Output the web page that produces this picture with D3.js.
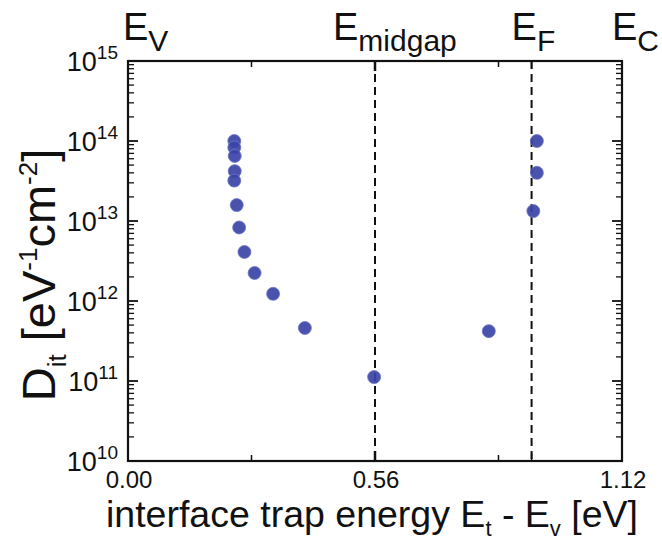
<!DOCTYPE html>
<html>
<head>
<meta charset="utf-8">
<script src="https://cdn.jsdelivr.net/npm/d3@7"></script>
<style>
  body { margin: 0; background: #fff; }
  svg text { font-family: "Liberation Sans", Arial, sans-serif; fill: #111; }
</style>
</head>
<body>
<div class="graphics"></div>
<script>
// trap energy (eV above E_v) and D_it values
const energy = [0.241, 0.241, 0.242, 0.242, 0.241, 0.2465, 0.252, 0.264, 0.287, 0.329, 0.401, 0.558, 0.818, 0.919, 0.927, 0.927];
const dit = [1.0e14, 8.3e13, 6.5e13, 4.2e13, 3.2e13, 1.58e13, 8.3e12, 4.1e12, 2.24e12, 1.23e12, 4.6e11, 1.12e11, 4.2e11, 1.33e13, 4.0e13, 1.0e14];
const xTicks = [0.00, 0.56, 1.12];
const xMinor = [0.28, 0.84];
const yExp = [10, 11, 12, 13, 14, 15];
const levelNames = ["V", "midgap", "F", "C"];
const levelEnergy = [0, 0.56, 0.915, 1.12];
const dashedAt = [0.56, 0.915];

const width = 662, height = 545;
const margin = { top: 61, right: 40, bottom: 84, left: 128 };

const svg = d3.select('.graphics').append('svg')
  .attr('width', width)
  .attr('height', height);

const x = d3.scaleLinear().domain([0, 1.12]).range([margin.left, width - margin.right]);
const y = d3.scaleLog().domain([1e10, 1e15]).range([height - margin.bottom, margin.top]);

const x0 = x.range()[0], x1 = x.range()[1];
const y0 = y.range()[0], y1 = y.range()[1];

// dashed level lines
svg.append('g').selectAll('line').data(dashedAt).join('line')
  .attr('x1', d => x(d)).attr('x2', d => x(d))
  .attr('y1', y1).attr('y2', y0)
  .attr('stroke', '#111').attr('stroke-width', 2)
  .attr('stroke-dasharray', '8,5');

// points
svg.append('g').selectAll('circle').data(energy).join('circle')
  .attr('cx', d => x(d))
  .attr('cy', (d, i) => y(dit[i]))
  .attr('r', 6.5)
  .attr('fill', '#3a44a6')
  .attr('fill-opacity', 0.92)
  .attr('stroke', '#6f77c2')
  .attr('stroke-width', 0.8);

// y minor ticks (both sides, inward)
const minors = [];
for (let e = 10; e < 15; e++) for (let m = 2; m <= 9; m++) minors.push(m * Math.pow(10, e));
const yt = svg.append('g').attr('stroke', '#111');
yt.selectAll('.ml').data(minors).join('line')
  .attr('x1', x0).attr('x2', x0 + 6)
  .attr('y1', d => y(d)).attr('y2', d => y(d)).attr('stroke-width', 1.3);
yt.selectAll('.mr').data(minors).join('line')
  .attr('x1', x1).attr('x2', x1 - 6)
  .attr('y1', d => y(d)).attr('y2', d => y(d)).attr('stroke-width', 1.3);
yt.selectAll('.Ml').data(yExp).join('line')
  .attr('x1', x0).attr('x2', x0 + 10)
  .attr('y1', d => y(Math.pow(10, d))).attr('y2', d => y(Math.pow(10, d))).attr('stroke-width', 1.8);
yt.selectAll('.Mr').data(yExp).join('line')
  .attr('x1', x1).attr('x2', x1 - 10)
  .attr('y1', d => y(Math.pow(10, d))).attr('y2', d => y(Math.pow(10, d))).attr('stroke-width', 1.8);

// x ticks, bottom and top, inward
const xt = svg.append('g').attr('stroke', '#111');
[[y0, -1], [y1, 1]].forEach(([yy, dir]) => {
  xt.selectAll(null).data(xMinor).join('line')
    .attr('x1', d => x(d)).attr('x2', d => x(d))
    .attr('y1', yy).attr('y2', yy + dir * 6).attr('stroke-width', 1.5);
  xt.selectAll(null).data([0.56]).join('line')
    .attr('x1', d => x(d)).attr('x2', d => x(d))
    .attr('y1', yy).attr('y2', yy + dir * 10).attr('stroke-width', 2.5);
  xt.selectAll(null).data([0.915]).join('line')
    .attr('x1', d => x(d)).attr('x2', d => x(d))
    .attr('y1', yy).attr('y2', yy + dir * 8).attr('stroke-width', 1.5);
});

// frame
svg.append('rect')
  .attr('x', x0).attr('y', y1)
  .attr('width', x1 - x0).attr('height', y0 - y1)
  .attr('fill', 'none').attr('stroke', '#111').attr('stroke-width', 2.2);

// y tick labels
const yl = svg.append('g').selectAll('text').data(yExp).join('text')
  .attr('x', 118).attr('y', d => y(Math.pow(10, d)) + 10)
  .attr('text-anchor', 'end')
  .style('font-size', '27px');
yl.append('tspan').text('10');
yl.append('tspan').attr('dy', -12).style('font-size', '19px').text(d => d);

// x tick labels
svg.append('g').selectAll('text').data(xTicks).join('text')
  .attr('x', d => x(d) + 1).attr('y', y0 + 27)
  .attr('text-anchor', 'middle')
  .style('font-size', '24px')
  .text(d => d.toFixed(2));

// x title
const xl = svg.append('text')
  .attr('x', 372).attr('y', 527)
  .attr('text-anchor', 'middle')
  .style('font-size', '37.5px');
xl.append('tspan').text('interface trap energy E');
xl.append('tspan').attr('dy', 9).style('font-size', '22px').text('t');
xl.append('tspan').attr('dy', -9).text(' - E');
xl.append('tspan').attr('dy', 9).style('font-size', '22px').text('v');
xl.append('tspan').attr('dy', -9).text(' [eV]');

// y title
const ylab = svg.append('text')
  .attr('transform', 'translate(55,' + 275 + ') rotate(-90)')
  .attr('text-anchor', 'middle')
  .style('font-size', '47px');
ylab.append('tspan').text('D');
ylab.append('tspan').attr('dy', 11).style('font-size', '26px').text('it');
ylab.append('tspan').attr('dy', -11).text(' [eV');
ylab.append('tspan').attr('dy', -18).style('font-size', '26px').text('-1');
ylab.append('tspan').attr('dy', 18).text('cm');
ylab.append('tspan').attr('dy', -18).style('font-size', '26px').text('-2');
ylab.append('tspan').attr('dy', 18).text(']');

// band level labels on top
const shift = [-5, -42, -20, -10];
const lv = svg.append('g').selectAll('text').data(levelNames).join('text')
  .attr('x', (d, i) => x(levelEnergy[i]) + shift[i]).attr('y', 40)
  .style('font-size', '38px');
lv.append('tspan').text('E');
lv.append('tspan').attr('dy', 11).style('font-size', '30px').text(d => d);
</script>
</body>
</html>
